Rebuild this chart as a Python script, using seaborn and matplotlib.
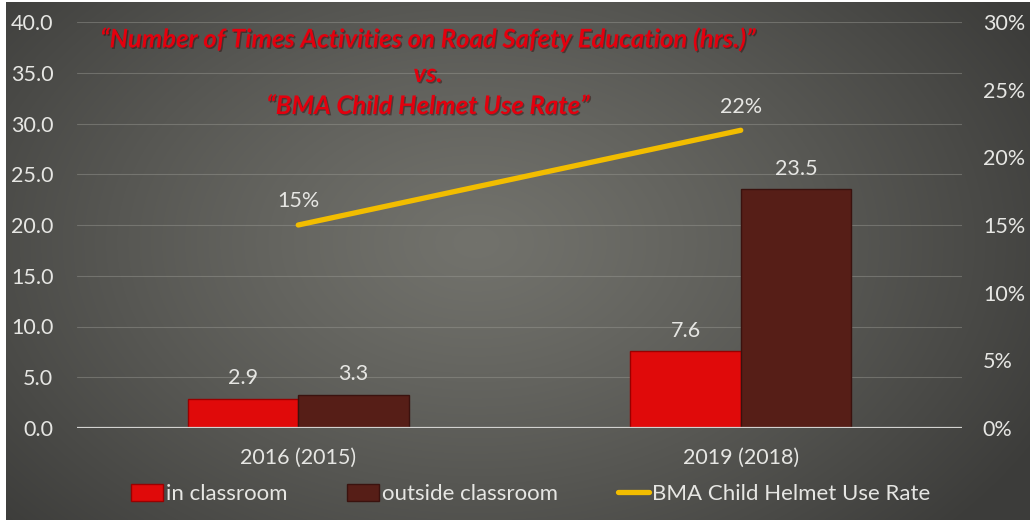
import numpy as np
import pandas as pd
import matplotlib
matplotlib.use("Agg")
import matplotlib.pyplot as plt
import matplotlib.patheffects as pe
import seaborn as sns
from matplotlib.ticker import FuncFormatter, MultipleLocator
from matplotlib.lines import Line2D
from matplotlib.patches import Patch

# ---- data ----
years = ["2016 (2015)", "2019 (2018)"]
in_classroom = [2.9, 7.6]
outside_classroom = [3.3, 23.5]
helmet_rate = [0.15, 0.22]
series_names = ["in classroom", "outside classroom"]
line_name = "BMA Child Helmet Use Rate"
title_lines = [
    "\u201cNumber of Times Activities on Road Safety Education (hrs.)\u201d",
    "vs.",
    "\u201cBMA Child Helmet Use Rate\u201d",
]

bar_colors = ["#e00a0a", "#561e17"]
bar_edges = ["#9a0000", "#3a120e"]
line_color = "#f2bd00"
text_color = "#e6e6e3"

sns.set_theme(style="white")
plt.rcParams["font.family"] = ["Lato", "DejaVu Sans"]

W, H = 1030, 520
fig = plt.figure(figsize=(W / 100, H / 100), dpi=100)
fig.patch.set_facecolor("white")

# soft radial gradient backdrop
bg = fig.add_axes([6 / W, 0, 1 - 6 / W, 1 - 2 / H], zorder=-10)
gh, gw = 518, 1024
yy, xx = np.mgrid[0:gh, 0:gw]
r = np.sqrt(((xx - 470) / 640) ** 2 + ((yy - 240) / 430) ** 2)
r = np.clip(r, 0, 1) ** 1.2
c_in = np.array([114, 114, 108]) / 255
c_out = np.array([60, 60, 58]) / 255
img = c_in[None, None, :] * (1 - r[..., None]) + c_out[None, None, :] * r[..., None]
bg.imshow(img, aspect="auto", extent=[0, 1, 0, 1], interpolation="bilinear")
bg.axis("off")

# ---- bars ----
ax = fig.add_axes([77 / W, 1 - 428 / H, (962 - 77) / W, 406 / H])
ax.patch.set_alpha(0)
df = pd.DataFrame({
    "year": years * 2,
    "hours": in_classroom + outside_classroom,
    "type": [series_names[0]] * len(years) + [series_names[1]] * len(years),
})
sns.barplot(data=df, x="year", y="hours", hue="type", palette=bar_colors,
            width=0.5, saturation=1, ax=ax, legend=False, zorder=3)
for cont, ec in zip(ax.containers, bar_edges):
    for p in cont:
        p.set_edgecolor(ec)
        p.set_linewidth(1.0)

for cont, vals in zip(ax.containers, [in_classroom, outside_classroom]):
    for p, v in zip(cont, vals):
        ax.annotate(f"{v:.1f}", (p.get_x() + p.get_width() / 2, v),
                    xytext=(0, 14.5), textcoords="offset points",
                    ha="center", va="center", fontsize=15.5, color=text_color)

ax.set_ylim(0, 40)
ax.set_xlim(-0.5, 1.5)
ax.yaxis.set_major_locator(MultipleLocator(5))
ax.yaxis.set_major_formatter(FuncFormatter(lambda v, _: f"{v:.1f}"))
ax.set_axisbelow(True)
ax.grid(axis="y", color="#9a9a94", alpha=0.45, lw=0.8)
ax.grid(axis="x", visible=False)
for s in ax.spines.values():
    s.set_visible(False)
ax.axhline(0, color="#d2d2d0", lw=1.6, zorder=4)
ax.set_xlabel("")
ax.set_ylabel("")
ax.tick_params(axis="y", length=0, pad=17, labelsize=15.5, labelcolor=text_color)
ax.tick_params(axis="x", length=0, pad=14, labelsize=15.5, labelcolor=text_color)

# ---- helmet-use line on the right scale ----
ax2 = ax.twinx()
ax2.patch.set_alpha(0)
sns.lineplot(x=[0, 1], y=helmet_rate, ax=ax2, color=line_color, lw=3.8,
             solid_capstyle="round", zorder=5)
for i, v in enumerate(helmet_rate):
    ax2.annotate(f"{v:.0%}", (i, v), xytext=(0, 17), textcoords="offset points",
                 ha="center", va="center", fontsize=15.5, color=text_color)
ax2.set_ylim(0, 0.30)
ax2.set_xlim(-0.5, 1.5)
ax2.yaxis.set_major_locator(MultipleLocator(0.05))
ax2.yaxis.set_major_formatter(FuncFormatter(lambda v, _: f"{v:.0%}"))
ax2.tick_params(axis="y", length=0, pad=15, labelsize=15.5, labelcolor=text_color)
ax2.grid(False)
for s in ax2.spines.values():
    s.set_visible(False)
ax2.set_ylabel("")

# ---- title ----
title_y = [39, 74, 106]
shadow = [pe.withSimplePatchShadow(offset=(1, -1), shadow_rgbFace="#2a0000", alpha=0.4)]
for t, y in zip(title_lines, title_y):
    fig.text(428 / W, 1 - y / H, t, ha="center", va="center",
             fontsize=18.5, fontstyle="italic", fontweight="bold",
             family=["Lato", "DejaVu Sans"],
             color="#e3000e", path_effects=shadow)

# ---- legend ----
handles = [
    Patch(facecolor=bar_colors[0], edgecolor=bar_edges[0]),
    Patch(facecolor=bar_colors[1], edgecolor=bar_edges[1]),
    Line2D([0], [0], color=line_color, lw=3.8),
]
fig.legend(handles, series_names + [line_name], loc="center",
           bbox_to_anchor=(531 / W, 1 - 494 / H), ncol=3, frameon=False,
           fontsize=16, labelcolor=text_color, handlelength=1.4,
           handleheight=0.8, handletextpad=0.15, columnspacing=2.7)

fig.savefig("out.png", dpi=100, facecolor=fig.get_facecolor())
